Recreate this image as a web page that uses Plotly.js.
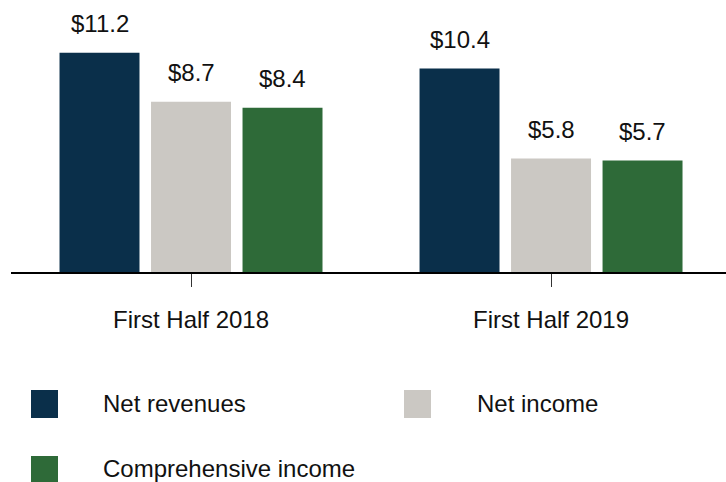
<!DOCTYPE html>
<html>
<head>
<meta charset="utf-8">
<script src="https://cdn.plot.ly/plotly-3.0.1.min.js"></script>
<style>
  body { margin: 0; background: #fff; }
  #chart { width: 726px; height: 482px; }
</style>
</head>
<body>
<div id="chart"></div>
<script>
// data (in $ billions)
let periods = ["First Half 2018", "First Half 2019"]
let netRevenues = [11.2, 10.4]
let netIncome = [8.7, 5.8]
let comprehensiveIncome = [8.4, 5.7]

let seriesNames = ["Net revenues", "Net income", "Comprehensive income"]
let seriesColors = ["#0a2f4a", "#cbc8c3", "#2e6a38"]
let seriesValues = [netRevenues, netIncome, comprehensiveIncome]

// plot box in pixels
const W = 726, H = 482
const L = 11, T = 0, B = 210
const plotW = W - L, plotH = H - T - B
const xRange = [-0.5, 1.486]
const yRange = [0, 13.9]

function px(x) { return (x - L) / plotW }
function py(y) { return (H - B - y) / plotH }

let font = {family: "Liberation Sans, Arial, sans-serif", size: 24, color: "#111"}

let data = seriesValues.map((vals, i) => ({
    type: "bar",
    name: seriesNames[i],
    x: periods,
    y: vals,
    marker: {color: seriesColors[i]},
    hoverinfo: "none"
}))

// value labels sit above each bar, offset to the bar's slot in the group
const bargap = 0.2375, bargroupgap = 0.126
const catPx = plotW / (xRange[1] - xRange[0])
const slotPx = catPx * (1 - bargap) / seriesValues.length

let annotations = []
seriesValues.forEach((vals, s) => {
    vals.forEach((v, i) => {
        annotations.push({
            x: periods[i], y: v, xref: "x", yref: "y",
            text: "$" + v.toFixed(1),
            showarrow: false,
            xshift: (s - 1) * slotPx,
            yshift: 29,
            yanchor: "middle",
            font: font
        })
    })
})

// legend drawn by hand: big squares and labels under the chart
let legendPos = [
    {sx: 31, sy: 390, tx: 101},
    {sx: 404, sy: 390, tx: 475},
    {sx: 31, sy: 456, tx: 101}
]
let shapes = []
legendPos.forEach((p, i) => {
    shapes.push({
        type: "rect", xref: "paper", yref: "paper",
        x0: px(p.sx), x1: px(p.sx + 27),
        y0: py(p.sy), y1: py(p.sy + 28),
        fillcolor: seriesColors[i],
        line: {width: 0}
    })
    annotations.push({
        xref: "paper", yref: "paper",
        x: px(p.tx), y: py(p.sy + 13),
        xanchor: "left", yanchor: "middle",
        text: seriesNames[i],
        showarrow: false,
        font: font
    })
})

let layout = {
    width: W,
    height: H,
    margin: {l: L, r: 0, t: T, b: B, pad: 0},
    paper_bgcolor: "#fff",
    plot_bgcolor: "#fff",
    barmode: "group",
    bargap: bargap,
    bargroupgap: bargroupgap,
    showlegend: false,
    font: font,
    xaxis: {
        range: xRange,
        showline: true,
        linecolor: "#000",
        linewidth: 2,
        ticks: "outside",
        ticklen: 13,
        tickwidth: 1,
        tickcolor: "#333",
        ticklabelstandoff: 12,
        tickfont: font,
        showgrid: false,
        zeroline: false,
        fixedrange: true
    },
    yaxis: {
        range: yRange,
        visible: false,
        showgrid: false,
        zeroline: false,
        fixedrange: true
    },
    shapes: shapes,
    annotations: annotations
}

Plotly.newPlot("chart", data, layout, {displayModeBar: false, staticPlot: true})
</script>
</body>
</html>
